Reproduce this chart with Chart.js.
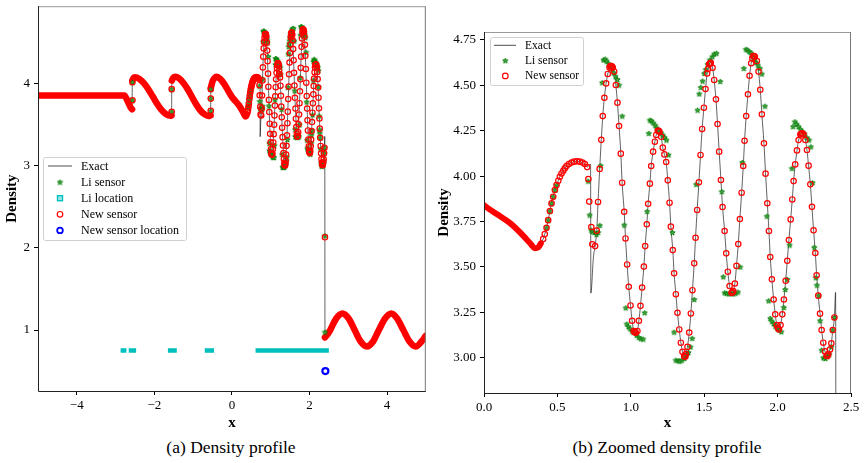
<!DOCTYPE html>
<html>
<head>
<meta charset="utf-8">
<title>Density profile</title>
<script src="https://cdn.jsdelivr.net/npm/chart.js@4.4.1/dist/chart.umd.min.js"></script>
<style>
  html, body { margin: 0; padding: 0; background: #fff; }
  body { width: 865px; height: 463px; position: relative; overflow: hidden; font-family: 'Liberation Serif', serif; }
  .panel { position: absolute; top: 0; height: 432px; }
  #panelA { left: 0; width: 432px; }
  #panelB { left: 432px; width: 433px; }
  .caption { position: absolute; top: 437px; font-size: 17.5px; color: #000; text-align: center; white-space: nowrap; }
  #capA { left: 0; width: 462px; }
  #capB { left: 432px; width: 470px; }
</style>
</head>
<body>
<div class="panel" id="panelA"><canvas id="chartA" width="432" height="432"></canvas></div>
<div class="panel" id="panelB"><canvas id="chartB" width="433" height="432"></canvas></div>
<div class="caption" id="capA">(a) Density profile</div>
<div class="caption" id="capB">(b) Zoomed density profile</div>
<script>
// tick values
const xTicksA = [-4, -2, 0, 2, 4];
const yTicksA = [1, 2, 3, 4];
const xTicksB = [0, 0.5, 1, 1.5, 2, 2.5];
const yTicksB = [3, 3.25, 3.5, 3.75, 4, 4.25, 4.5, 4.75];

// dense "New sensor" parts (they look like a solid band), null = break
const bandX = [
  -5, -2.77, -2.72, -2.66, -2.61, -2.575, -2.575,
  -2.568, -2.54, -2.50, -2.385, -2.27, -2.155, -2.04, -1.925, -1.81, -1.695, -1.58, -1.555, -1.555,
  -1.549, -1.52, -1.465, -1.36, -1.25, -1.14, -1.035, -0.93, -0.82, -0.71, -0.604, -0.548, -0.548,
  -0.543, -0.50, -0.45, -0.39, -0.30, -0.20, -0.10, 0, 0.09, 0.18, 0.27, 0.32, 0.345, 0.37, 0.387, 0.387,
  2.40, 2.47, 2.535, 2.69, 2.85, 3.01, 3.165, 3.32, 3.48, 3.64, 3.79, 3.95, 4.11, 4.26, 4.42, 4.58, 4.74, 4.89, 5.0
];
const bandY = [
  3.857, 3.857, 3.82, 3.76, 3.71, 3.69, null,
  4.04, 4.07, 4.08, 4.06, 4.01, 3.935, 3.845, 3.755, 3.68, 3.63, 3.61, 3.615, null,
  4.04, 4.07, 4.085, 4.065, 4.01, 3.935, 3.846, 3.757, 3.68, 3.63, 3.607, 3.615, null,
  3.95, 4.03, 4.07, 4.085, 4.06, 4.0, 3.92, 3.84, 3.79, 3.74, 3.67, 3.625, 3.603, 3.608, 3.63, null,
  0.91, 0.95, 1.00, 1.14, 1.20, 1.14, 1.00, 0.86, 0.80, 0.86, 1.00, 1.14, 1.20, 1.14, 1.00, 0.86, 0.80, 0.86, 0.93
];

// single "New sensor" circles
const newX = [
  -2.565, -2.565, -1.552, -1.552, -0.545, -0.545, -0.545,
  0.403, 0.414, 0.426, 0.437, 0.449, 0.460, 0.471, 0.483, 0.494, 0.506,
  0.517, 0.528, 0.540, 0.551, 0.562, 0.578, 0.596, 0.614, 0.634, 0.653,
  0.671, 0.687, 0.703, 0.711, 0.717, 0.731, 0.738, 0.757, 0.768, 0.777,
  0.788, 0.799, 0.809, 0.820, 0.832, 0.843, 0.855, 0.861, 0.866, 0.872,
  0.877, 0.887, 0.898, 0.909, 0.920, 0.932, 0.941, 0.955, 0.964, 0.975,
  0.986, 0.998, 1.009, 1.020, 1.027, 1.034, 1.045, 1.055, 1.066, 1.077,
  1.089, 1.098, 1.109, 1.118, 1.130, 1.139, 1.152, 1.164, 1.173, 1.184,
  1.190, 1.195, 1.207, 1.218, 1.229, 1.241, 1.252, 1.264, 1.273, 1.286,
  1.295, 1.307, 1.318, 1.330, 1.341, 1.352, 1.364, 1.370, 1.375, 1.386,
  1.398, 1.409, 1.420, 1.432, 1.441, 1.452, 1.464, 1.475, 1.486, 1.498,
  1.509, 1.520, 1.527, 1.534, 1.540, 1.545, 1.557, 1.568, 1.580, 1.591,
  1.602, 1.614, 1.625, 1.639, 1.650, 1.661, 1.673, 1.686, 1.692, 1.698,
  1.709, 1.720, 1.732, 1.743, 1.755, 1.766, 1.775, 1.786, 1.798, 1.809,
  1.820, 1.828, 1.834, 1.840, 1.845, 1.859, 1.870, 1.882, 1.893, 1.907,
  1.918, 1.930, 1.941, 1.950, 1.961, 1.973, 1.984, 1.995, 2.002, 2.009,
  2.020, 2.032, 2.043, 2.055, 2.066, 2.077, 2.089, 2.100, 2.109, 2.120,
  2.132, 2.143, 2.155, 2.160, 2.166, 2.177, 2.189, 2.200, 2.211, 2.223,
  2.234, 2.245, 2.257, 2.266, 2.277, 2.289, 2.300, 2.311, 2.323, 2.334,
  2.340, 2.345, 2.357, 2.366, 2.376, 2.387, 2.400
];
const newY = [
  4.02, 3.80, 3.935, 3.66, 3.935, 3.82, 3.67,
  3.654, 3.681, 3.716, 3.758, 3.808, 3.850, 3.887, 3.924, 3.951, 3.975,
  3.997, 4.015, 4.030, 4.043, 4.056, 4.067, 4.075, 4.080, 4.082, 4.080,
  4.075, 4.067, 4.050, 3.984, 3.860, 3.720, 3.625, 3.615, 3.700, 3.858,
  4.040, 4.200, 4.331, 4.432, 4.511, 4.563, 4.598, 4.606, 4.607, 4.604,
  4.598, 4.576, 4.502, 4.405, 4.276, 4.124, 3.964, 3.804, 3.657, 3.514,
  3.391, 3.288, 3.204, 3.147, 3.140, 3.138, 3.147, 3.204, 3.286, 3.387,
  3.502, 3.615, 3.735, 3.848, 3.959, 4.056, 4.135, 4.190, 4.227, 4.250,
  4.250, 4.245, 4.217, 4.157, 4.120, 4.078, 3.977, 3.854, 3.722, 3.593,
  3.465, 3.350, 3.248, 3.156, 3.083, 3.033, 3.009, 3.005, 3.020, 3.060,
  3.139, 3.244, 3.372, 3.520, 3.661, 3.814, 3.966, 4.117, 4.260, 4.377,
  4.480, 4.566, 4.590, 4.616, 4.622, 4.625, 4.597, 4.530, 4.423, 4.287,
  4.135, 3.979, 3.830, 3.698, 3.575, 3.474, 3.395, 3.358, 3.360, 3.367,
  3.409, 3.506, 3.626, 3.764, 3.909, 4.056, 4.195, 4.331, 4.451, 4.553,
  4.622, 4.650, 4.662, 4.662, 4.658, 4.634, 4.576, 4.476, 4.341, 4.181,
  4.014, 3.851, 3.698, 3.555, 3.432, 3.321, 3.239, 3.180, 3.165, 3.156,
  3.180, 3.239, 3.321, 3.424, 3.534, 3.648, 3.762, 3.872, 3.973, 4.065,
  4.142, 4.199, 4.229, 4.234, 4.236, 4.230, 4.199, 4.144, 4.058, 3.955,
  3.831, 3.702, 3.577, 3.454, 3.342, 3.243, 3.153, 3.083, 3.035, 3.011,
  3.010, 3.020, 3.045, 3.080, 3.153, 3.222, 2.130
];

// Li sensor stars
const liX = [
  -2.565, -2.565, -1.552, -1.552, -0.545, -0.545, -0.545, 2.400, 2.400,
  0.426, 0.437, 0.449, 0.460, 0.471, 0.483, 0.494, 0.709, 0.720, 0.730,
  0.739, 0.752, 0.766, 0.777, 0.789, 0.795, 0.805, 0.814, 0.825, 0.836,
  0.848, 0.859, 0.870, 0.882, 0.895, 0.909, 0.920, 0.941, 0.955, 0.966,
  0.973, 0.984, 0.995, 1.009, 1.020, 1.039, 1.055, 1.068, 1.084, 1.095,
  1.111, 1.123, 1.130, 1.141, 1.152, 1.166, 1.177, 1.191, 1.205, 1.218,
  1.230, 1.243, 1.257, 1.284, 1.295, 1.307, 1.323, 1.334, 1.348, 1.364,
  1.380, 1.393, 1.407, 1.418, 1.432, 1.445, 1.455, 1.466, 1.477, 1.489,
  1.500, 1.511, 1.523, 1.539, 1.555, 1.568, 1.584, 1.609, 1.620, 1.630,
  1.639, 1.652, 1.668, 1.684, 1.698, 1.714, 1.730, 1.745, 1.759, 1.770,
  1.784, 1.795, 1.807, 1.818, 1.830, 1.841, 1.852, 1.866, 1.880, 1.893,
  1.914, 1.927, 1.939, 1.950, 1.961, 1.973, 1.984, 1.998, 2.011, 2.025,
  2.043, 2.052, 2.066, 2.082, 2.098, 2.105, 2.118, 2.130, 2.143, 2.157,
  2.170, 2.184, 2.200, 2.214, 2.227, 2.239, 2.250, 2.261, 2.268, 2.280,
  2.289, 2.300, 2.311, 2.325, 2.339, 2.352, 2.366, 2.375, 2.387
];
const liY = [
  4.02, 3.80, 3.935, 3.66, 3.935, 3.82, 3.67, 2.15, 0.975,
  3.716, 3.758, 3.808, 3.850, 3.887, 3.924, 3.951, 3.973, 3.786, 3.703,
  3.695, 3.690, 3.680, 3.690, 3.729, 4.058, 4.515, 4.640, 4.645, 4.634,
  4.620, 4.606, 4.590, 4.570, 4.551, 4.533, 4.502, 4.331, 3.731, 3.275,
  3.186, 3.171, 3.160, 3.147, 3.140, 3.125, 3.112, 3.105, 3.103, 3.248,
  3.806, 4.236, 4.309, 4.305, 4.294, 4.281, 4.266, 4.253, 4.240, 4.227,
  4.214, 4.199, 4.117, 3.690, 3.141, 2.987, 2.984, 2.982, 2.987, 2.996,
  3.014, 3.029, 3.060, 3.107, 3.321, 3.955, 4.364, 4.453, 4.489, 4.524,
  4.566, 4.588, 4.617, 4.640, 4.658, 4.673, 4.677, 4.522, 3.915, 3.446,
  3.358, 3.355, 3.352, 3.354, 3.352, 3.356, 3.362, 3.500, 4.076, 4.594,
  4.699, 4.695, 4.686, 4.680, 4.667, 4.643, 4.627, 4.612, 4.594, 4.563,
  4.386, 3.780, 3.314, 3.217, 3.202, 3.189, 3.174, 3.162, 3.153, 3.143,
  3.277, 3.376, 3.432, 3.621, 4.043, 4.273, 4.300, 4.287, 4.273, 4.258,
  4.245, 4.232, 4.212, 4.199, 4.162, 3.964, 3.608, 3.441, 3.400, 3.342,
  3.204, 3.042, 3.000, 2.996, 3.006, 3.020, 3.060, 3.152, 3.222
];

// Li location runs (start/end of each cyan run) at a fixed level
const liLocStart = [-2.87, -2.66, -1.65, -0.70, 0.61];
const liLocEnd = [-2.72, -2.47, -1.42, -0.46, 2.50];
const liLocLevel = 0.75;

// New sensor location
const newLocX = [2.41];
const newLocY = [0.50];

// extra points of the exact curve: the spikes at both shocks
const exactX = [0.726, 0.728, 0.745, 2.395];
const exactY = [4.066, 3.356, 3.55, 3.36];

Chart.defaults.font.family = "'Liberation Serif', serif";
Chart.defaults.color = '#000';
Chart.defaults.animation = false;

function starImage(size, color) {
  const c = document.createElement('canvas');
  c.width = c.height = size;
  const g = c.getContext('2d');
  const cx = size / 2, cy = size / 2 + 0.3, r = size / 2 - 0.7, ri = r * 0.45;
  g.beginPath();
  for (let i = 0; i < 10; i++) {
    const a = -Math.PI / 2 + i * Math.PI / 5;
    const rr = i % 2 ? ri : r;
    g.lineTo(cx + rr * Math.cos(a), cy + rr * Math.sin(a));
  }
  g.closePath();
  g.fillStyle = '#4fa04f';
  g.fill();
  g.strokeStyle = color;
  g.lineWidth = 0.9;
  g.stroke();
  return c;
}
const star = starImage(7, '#008000');

const toPts = (xs, ys) => xs.map((x, i) => ({ x: x, y: ys[i] }));

const bandPts = toPts(bandX, bandY);
const newPts = toPts(newX, newY);
const liPts = toPts(liX, liY);
const newLocPts = toPts(newLocX, newLocY);

const liLocPts = [];
liLocStart.forEach((s, i) => {
  liLocPts.push({ x: s, y: liLocLevel }, { x: liLocEnd[i], y: liLocLevel }, { x: liLocEnd[i], y: null });
});

// the exact curve runs through the smooth band, the shock spikes and the sampled oscillations
const exactPts = bandPts.filter(p => p.y !== null)
  .concat(toPts(exactX, exactY))
  .concat(newPts.filter(p => (p.x > 0.39 && p.x < 0.705) || (p.x > 0.748 && p.x < 2.39)))
  .sort((a, b) => a.x - b.x);

function datasets(full, bandWidth) {
  const ds = [
    { label: 'New sensor location', data: newLocPts, pointStyle: 'circle', pointRadius: 3, pointBorderWidth: 2.2,
      pointBorderColor: '#0000ff', pointBackgroundColor: 'rgba(0,0,0,0)', order: 0, clip: 0 },
    { label: 'New sensor', data: newPts, pointStyle: 'circle', pointRadius: 2.7, pointBorderWidth: 1.2,
      pointBorderColor: '#ff0000', pointBackgroundColor: 'rgba(0,0,0,0)', order: 1, clip: 0 },
    { label: 'Li location', data: liLocPts, showLine: true, borderColor: '#00bfbf', borderWidth: 4.5,
      borderCapStyle: 'butt', pointRadius: 0, order: 2, clip: 0 },
    { label: 'Li sensor', data: liPts, pointStyle: star, pointRadius: 3.5, order: 3, clip: 0 },
    { label: 'New sensor band', data: bandPts, showLine: true, borderColor: '#ff0000', borderWidth: bandWidth,
      borderCapStyle: 'round', borderJoinStyle: 'round', cubicInterpolationMode: 'monotone', pointRadius: 0, order: 4, clip: 0 },
    { label: 'Exact', data: exactPts, showLine: true, borderColor: 'rgba(0,0,0,0.62)', borderWidth: 1,
      cubicInterpolationMode: 'monotone', pointRadius: 0, order: 5, clip: 0 }
  ];
  return full ? ds : ds.filter(d => d.label !== 'New sensor location' && d.label !== 'Li location');
}

function axes(o) {
  const tickFont = { size: 13 };
  const titleFont = { size: 15, weight: 'bold' };
  return {
    x: {
      type: 'linear', position: 'bottom', min: o.xMin, max: o.xMax,
      afterBuildTicks: s => { s.ticks = o.xTicks.map(v => ({ value: v })); },
      afterFit: s => { s.height = o.xHeight; s.paddingLeft = 0; s.paddingRight = 0; },
      ticks: { callback: v => o.xFmt(v), font: tickFont, color: '#000', padding: 3, maxRotation: 0, autoSkip: false },
      grid: { drawOnChartArea: false, tickLength: 4, color: '#000' },
      border: { display: false },
      title: { display: true, text: 'x', font: titleFont, color: '#000', padding: 0 }
    },
    y: {
      type: 'linear', min: o.yMin, max: o.yMax,
      afterBuildTicks: s => { s.ticks = o.yTicks.map(v => ({ value: v })); },
      afterFit: s => { s.width = o.yWidth; s.paddingTop = 0; s.paddingBottom = 0; },
      ticks: { callback: v => o.yFmt(v), font: tickFont, color: '#000', padding: 4, autoSkip: false },
      grid: { drawOnChartArea: false, tickLength: 4, color: '#000' },
      border: { display: false },
      title: { display: true, text: 'Density', font: titleFont, color: '#000', padding: 0 }
    }
  };
}

// axes box
const framePlugin = {
  id: 'frame',
  afterDatasetsDraw(chart) {
    const { ctx, chartArea: a } = chart;
    ctx.save();
    ctx.lineWidth = 1;
    ctx.strokeStyle = '#999';
    ctx.beginPath();
    ctx.moveTo(a.left, a.top + 0.5);
    ctx.lineTo(a.right - 0.5, a.top + 0.5);
    ctx.stroke();
    ctx.strokeStyle = '#777';
    ctx.beginPath();
    ctx.moveTo(a.right - 0.5, a.top);
    ctx.lineTo(a.right - 0.5, a.bottom);
    ctx.stroke();
    ctx.strokeStyle = '#222';
    ctx.beginPath();
    ctx.moveTo(a.left + 0.5, a.top);
    ctx.lineTo(a.left + 0.5, a.bottom + 0.5);
    ctx.lineTo(a.right, a.bottom + 0.5);
    ctx.stroke();
    ctx.restore();
  }
};

function makeLegend(cfg) {
  return {
    id: 'boxLegend',
    afterDraw(chart) {
      const ctx = chart.ctx;
      ctx.save();
      ctx.beginPath();
      ctx.roundRect(cfg.x + 0.5, cfg.y + 0.5, cfg.w, cfg.h, 2);
      ctx.fillStyle = 'rgba(255,255,255,0.85)';
      ctx.fill();
      ctx.strokeStyle = '#d0d0d0';
      ctx.lineWidth = 1;
      ctx.stroke();
      cfg.items.forEach((it, i) => {
        const cy = cfg.y + cfg.first + i * cfg.row;
        const mx = cfg.x + cfg.mark;
        if (it.kind === 'line') {
          ctx.strokeStyle = 'rgba(0,0,0,0.7)';
          ctx.lineWidth = 1;
          ctx.beginPath();
          ctx.moveTo(cfg.x + cfg.line0, cy);
          ctx.lineTo(cfg.x + cfg.line1, cy);
          ctx.stroke();
        } else if (it.kind === 'star') {
          ctx.drawImage(star, mx - 3.5, cy - 3.5);
        } else if (it.kind === 'square') {
          ctx.fillStyle = '#9fe6e6';
          ctx.fillRect(mx - 2.5, cy - 2.5, 5, 5);
          ctx.strokeStyle = '#00bfbf';
          ctx.lineWidth = 1.4;
          ctx.strokeRect(mx - 2.5, cy - 2.5, 5, 5);
        } else {
          ctx.strokeStyle = it.kind === 'ring' ? '#ff0000' : '#0000ff';
          ctx.lineWidth = it.kind === 'ring' ? 1.2 : 1.8;
          ctx.beginPath();
          ctx.arc(mx, cy, 2.8, 0, Math.PI * 2);
          ctx.stroke();
        }
        ctx.fillStyle = '#000';
        ctx.font = cfg.size + "px 'Liberation Serif', serif";
        ctx.textBaseline = 'middle';
        ctx.textAlign = 'left';
        ctx.fillText(it.label, cfg.x + cfg.text, cy + 0.5);
      });
      ctx.restore();
    }
  };
}

const minus = v => String(v).replace('-', '\u2212');

new Chart(document.getElementById('chartA'), {
  type: 'scatter',
  data: { datasets: datasets(true, 6.5) },
  options: {
    responsive: false,
    devicePixelRatio: 1,
    layout: { padding: { left: 3, top: 6, right: 6, bottom: 0 } },
    scales: axes({ xMin: -5, xMax: 5, yMin: 0.257, yMax: 4.946, xTicks: xTicksA, yTicks: yTicksA,
      xFmt: minus, yFmt: minus, xHeight: 41, yWidth: 35 }),
    plugins: { legend: { display: false }, tooltip: { enabled: false } }
  },
  plugins: [framePlugin, makeLegend({
    x: 43, y: 157, w: 143, h: 83, first: 9, row: 16.1, mark: 17, line0: 5, line1: 29, text: 38, size: 12,
    items: [
      { label: 'Exact', kind: 'line' },
      { label: 'Li sensor', kind: 'star' },
      { label: 'Li location', kind: 'square' },
      { label: 'New sensor', kind: 'ring' },
      { label: 'New sensor location', kind: 'blue' }
    ]
  })]
});

new Chart(document.getElementById('chartB'), {
  type: 'scatter',
  data: { datasets: datasets(false, 6) },
  options: {
    responsive: false,
    devicePixelRatio: 1,
    layout: { padding: { left: 3, top: 32, right: 14, bottom: 0 } },
    scales: axes({ xMin: 0, xMax: 2.5, yMin: 2.806, yMax: 4.794, xTicks: xTicksB, yTicks: yTicksB,
      xFmt: v => v.toFixed(1), yFmt: v => v.toFixed(2), xHeight: 39, yWidth: 49 }),
    plugins: { legend: { display: false }, tooltip: { enabled: false } }
  },
  plugins: [framePlugin, makeLegend({
    x: 58, y: 37, w: 93, h: 48, first: 8.3, row: 15.3, mark: 15.3, line0: 4, line1: 26, text: 35, size: 11.5,
    items: [
      { label: 'Exact', kind: 'line' },
      { label: 'Li sensor', kind: 'star' },
      { label: 'New sensor', kind: 'ring' }
    ]
  })]
});
</script>
</body>
</html>
